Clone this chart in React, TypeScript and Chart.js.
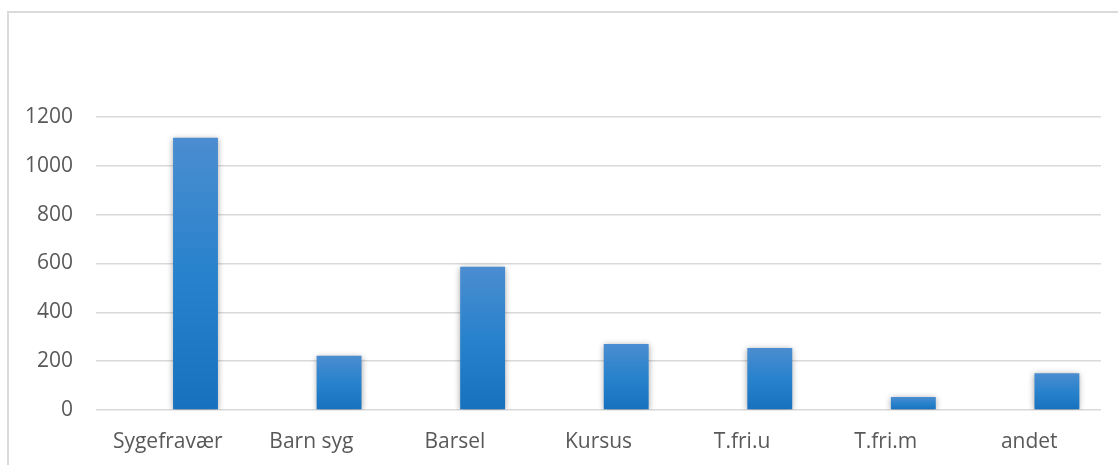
import React, { useEffect, useRef } from "react";
import { Chart, registerables } from "chart.js";

Chart.register(...registerables);

const categories = ["Sygefravær", "Barn syg", "Barsel", "Kursus", "T.fri.u", "T.fri.m", "andet"];
const emptySeries: (number | null)[] = [null, null, null, null, null, null, null];
const values = [1115, 222, 587, 270, 254, 53, 151];
const yTicks = [0, 200, 400, 600, 800, 1000, 1200];

const shadowPlugin = {
  id: "barShadow",
  beforeDatasetsDraw(chart: any) {
    const ctx = chart.ctx;
    ctx.save();
    ctx.shadowColor = "rgba(0,0,0,0.35)";
    ctx.shadowBlur = 6;
    ctx.shadowOffsetX = 0;
    ctx.shadowOffsetY = 1;
  },
  afterDatasetsDraw(chart: any) {
    chart.ctx.restore();
  },
};

export default function App() {
  const ref = useRef<HTMLCanvasElement | null>(null);
  useEffect(() => {
    if (!ref.current) return;
    const font = { family: "'Open Sans', sans-serif", size: 21 };
    const chart = new Chart(ref.current, {
      type: "bar",
      data: {
        labels: categories,
        datasets: [
          { label: "a", data: emptySeries, backgroundColor: "#2a82cc" },
          {
            label: "b",
            data: values,
            backgroundColor: (c: any) => {
              const ch = c.chart;
              const y = ch.scales && ch.scales.y;
              if (!y || c.raw == null || !ch.chartArea) return "#2a82cc";
              const top = y.getPixelForValue(c.raw);
              const bottom = y.getPixelForValue(0);
              if (!isFinite(top) || !isFinite(bottom) || top === bottom) return "#2a82cc";
              const g = ch.ctx.createLinearGradient(0, top, 0, bottom);
              g.addColorStop(0, "#4b8dd0");
              g.addColorStop(0.5, "#2882cc");
              g.addColorStop(1, "#1771be");
              return g;
            },
          },
        ],
      },
      options: {
        animation: false,
        responsive: true,
        maintainAspectRatio: false,
        categoryPercentage: 0.772,
        barPercentage: 0.81,
        layout: { padding: { left: 0, right: 17, top: 117, bottom: 0 } },
        plugins: { legend: { display: false }, tooltip: { enabled: false }, title: { display: false } },
        scales: {
          x: {
            grid: { display: false, drawTicks: false },
            border: { display: false },
            ticks: { color: "#595959", font, padding: 19 },
            afterFit: (s: any) => { s.height = 55; },
          },
          y: {
            min: 0,
            max: 1200,
            afterBuildTicks: (s: any) => { s.ticks = yTicks.map((v) => ({ value: v })); },
            grid: { color: "#d9d9d9", lineWidth: 1.5, drawTicks: false },
            border: { display: false },
            ticks: { color: "#595959", font, padding: 23, callback: (v: any) => String(v) },
            afterFit: (s: any) => { s.width = 96; },
          },
        },
      },
      plugins: [shadowPlugin],
    } as any);
    return () => chart.destroy();
  }, []);
  return (
    <div style={{ position: "fixed", left: 0, top: 0, width: 1118, height: 465, overflow: "hidden", background: "#fff" }}>
      <div style={{ position: "absolute", left: 7, top: 11, width: 1200, height: 600, border: "2px solid #dadada", boxSizing: "border-box" }} />
      <div style={{ position: "absolute", left: 0, top: 0, width: 1118, height: 465 }}>
        <canvas ref={ref} />
      </div>
    </div>
  );
}
